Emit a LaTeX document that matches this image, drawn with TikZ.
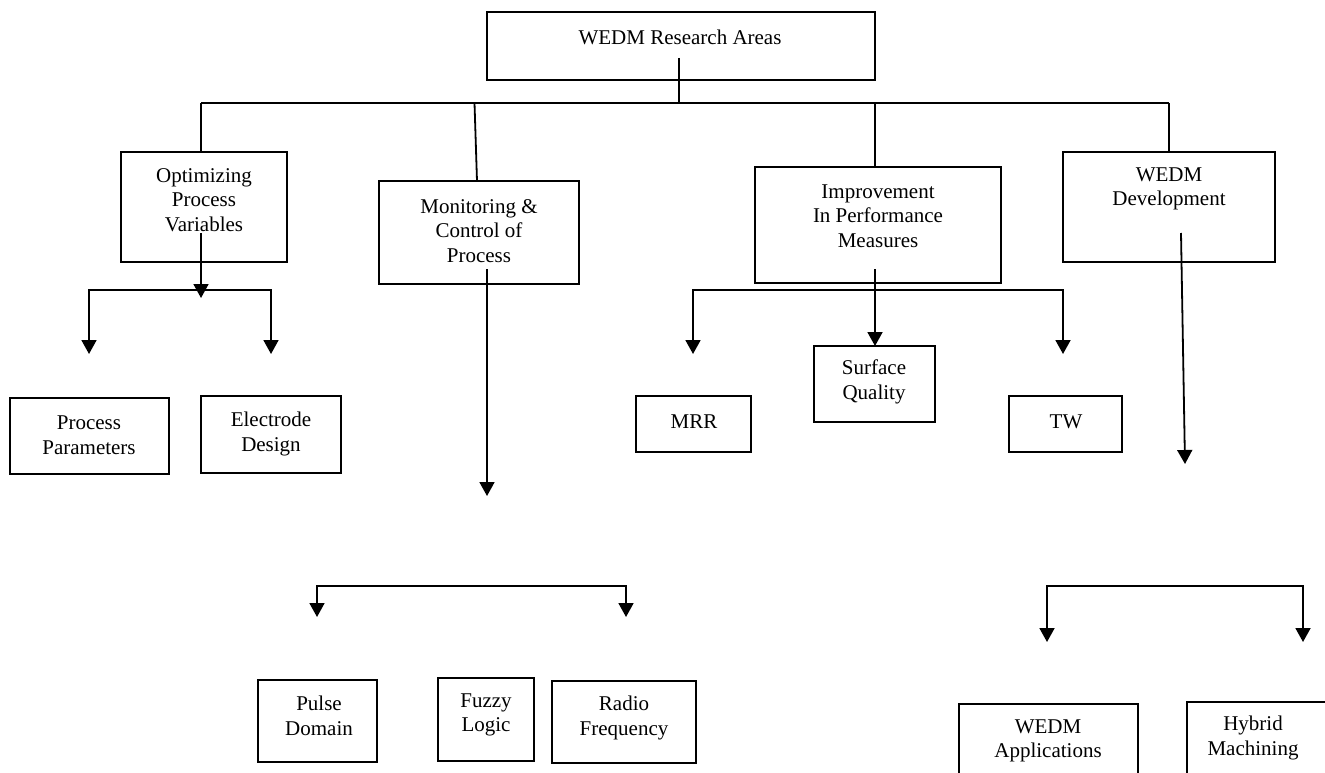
\documentclass[tikz,border=0pt]{standalone}
\usepackage{fontspec}
\setmainfont{Liberation Serif}
\usetikzlibrary{arrows.meta}
\tikzset{
  box/.style={draw, line width=1.8pt, inner sep=0pt, outer sep=0pt, rectangle},
  txt/.style={align=center, inner sep=0pt, font=\fontsize{21}{24.5}\selectfont},
  conn/.style={line width=1.8pt},
  arr/.style={line width=1.8pt, -{Triangle[width=15pt,length=14pt]}},
  darr/.style={line width=1.8pt, {Triangle[width=15pt,length=14pt]}-{Triangle[width=15pt,length=14pt]}}
}
\newcommand{\mybx}[5]{\node[box, minimum width={#4-#2}, minimum height={#5-#3}] (#1) at ({(#2+#4)/2},{(#3+#5)/2}) {};}
\begin{document}
\begin{tikzpicture}[x=1pt,y=-1pt]
\useasboundingbox (0,0) rectangle (1325,773);
\clip (0,0) rectangle (1325,773);
% boxes
\mybx{root}{487}{12}{875}{80}
\mybx{opt}{121}{152}{287}{262}
\mybx{mon}{379}{181}{579}{284}
\mybx{imp}{755}{167}{1001}{283}
\mybx{dev}{1063}{152}{1275}{262}
\mybx{pp}{10}{398}{169}{474}
\mybx{ed}{201}{396}{341}{473}
\mybx{mrr}{636}{396}{751}{452}
\mybx{sq}{814}{346}{935}{422}
\mybx{tw}{1009}{396}{1122}{452}
\mybx{pd}{258}{680}{377}{762}
\mybx{fl}{438}{678}{534}{761}
\mybx{rf}{552}{681}{696}{763}
\mybx{wa}{959}{704}{1138}{820}
\mybx{hm}{1187}{702}{1380}{820}
% texts
\node[txt] (rootT) at (680,37) {WEDM Research Areas};
\node[txt] (optT) at (204,200) {Optimizing\\Process\\Variables};
\node[txt] (monT) at (479,231) {Monitoring \&\\Control of\\Process};
\node[txt] (impT) at (878,216) {Improvement\\In Performance\\Measures};
\node[txt] (devT) at (1169,189) {WEDM\\Development};
\node[txt] (ppT) at (89,435) {Process\\Parameters};
\node[txt] (edT) at (271,434) {Electrode\\Design};
\node[txt] (mrrT) at (694,422) {MRR};
\node[txt] (sqT) at (874,382) {Surface\\Quality};
\node[txt] (twT) at (1066,422) {TW};
\node[txt] (pdT) at (319,716) {Pulse\\Domain};
\node[txt] (flT) at (486,715) {Fuzzy\\Logic};
\node[txt] (rfT) at (624,718) {Radio\\Frequency};
\node[txt] (waT) at (1048,741) {WEDM\\Applications};
\node[txt] (hmT) at (1253,738) {Hybrid\\Machining};
% coordinates
\coordinate (rs) at (679,58);
\coordinate (b1) at (201,103);
\coordinate (b2) at (474.5,103);
\coordinate (b3) at (875,103);
\coordinate (b4) at (1169,103);
\coordinate (o1) at (201,233);
\coordinate (o1t) at (201,298);
\coordinate (s1) at (89,290);
\coordinate (t1l) at (89,354);
\coordinate (t1r) at (271,354);
\coordinate (m2) at (487,269);
\coordinate (m2t) at (487,496);
\coordinate (s2) at (317,586);
\coordinate (t2l) at (317,617);
\coordinate (t2r) at (626,617);
\coordinate (m3) at (875,269);
\coordinate (s3) at (693,290);
\coordinate (t3l) at (693,354);
\coordinate (t3r) at (1063,354);
\coordinate (m4) at (1181,233);
\coordinate (m4t) at (1185,464);
\coordinate (s4) at (1047,586);
\coordinate (t4l) at (1047,642);
\coordinate (t4r) at (1303,642);
% top level
\draw[conn] (rs) -- (rs |- b1);
\draw[conn] (b1) -- (b4);
\draw[conn] (b1) -- (b1 |- opt.north);
\draw[conn] (b2) -- ([xshift=-2pt]mon.north);
\draw[conn] (b3) -- (b3 |- imp.north);
\draw[conn] (b4) -- (dev.north);
% branch 1
\draw[arr] (o1) -- (o1t);
\draw[darr] (t1l) -- (t1l |- s1) -- (t1r |- s1) -- (t1r);
% branch 2
\draw[arr] (m2) -- (m2t);
\draw[darr] (t2l) -- (t2l |- s2) -- (t2r |- s2) -- (t2r);
% branch 3
\draw[arr] (m3) -- (m3 |- sq.north);
\draw[darr] (t3l) -- (t3l |- s3) -- (t3r |- s3) -- (t3r);
% branch 4
\draw[arr] (m4) -- (m4t);
\draw[darr] (t4l) -- (t4l |- s4) -- (t4r |- s4) -- (t4r);
\end{tikzpicture}
\end{document}
